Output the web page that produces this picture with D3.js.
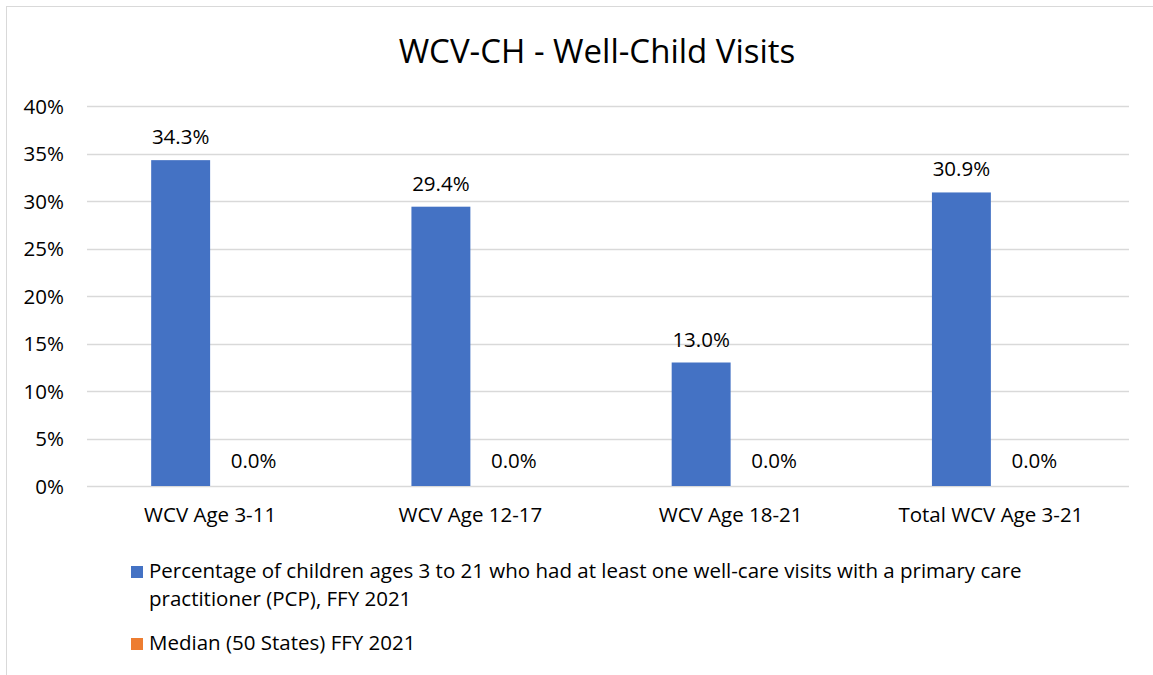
<!DOCTYPE html>
<html lang="en">
<head>
    <meta charset="UTF-8">
    <title>WCV-CH - Well-Child Visits</title>
    <script src="https://cdnjs.cloudflare.com/ajax/libs/d3/7.8.5/d3.min.js"></script>
    <style>
        body { margin: 0; background: #fff; }
        text { font-family: "Open Sans", "Liberation Sans", sans-serif; fill: #000; }
    </style>
</head>
<body>
<div id="wrapper"></div>
<script>
const title = "WCV-CH - Well-Child Visits";
const categories = ["WCV Age 3-11", "WCV Age 12-17", "WCV Age 18-21", "Total WCV Age 3-21"];
const seriesNames = [
    "Percentage of children ages 3 to 21 who had at least one well-care visits with a primary care\npractitioner (PCP), FFY 2021",
    "Median (50 States) FFY 2021"
];
const stateValues = [34.3, 29.4, 13.0, 30.9];
const medianValues = [0.0, 0.0, 0.0, 0.0];
const yTicks = [0, 5, 10, 15, 20, 25, 30, 35, 40];
const colors = ["#4472C4", "#ED7D31"];

const width = 1153;
const height = 675;
const fontSize = "20.5px";

const svg = d3.select("#wrapper")
    .append("svg")
    .attr("width", width)
    .attr("height", height);

// chart frame (runs off the right/bottom edge like the source)
svg.append("rect")
    .attr("x", 6.5).attr("y", 6.5)
    .attr("width", 1182).attr("height", 720)
    .attr("fill", "none")
    .attr("stroke", "#D9D9D9")
    .attr("stroke-width", 1);

svg.append("text")
    .attr("x", 597)
    .attr("y", 63)
    .attr("text-anchor", "middle")
    .style("font-size", "33px")
    .text(title);

// scales
const yScale = d3.scaleLinear()
    .domain([0, 40])
    .range([486, 106]);

const x0 = d3.scaleBand()
    .domain(categories)
    .range([80, 1121])
    .paddingInner(0.547)
    .paddingOuter(0.2735);

const x1 = d3.scaleBand()
    .domain([0, 1])
    .range([0, x0.bandwidth()]);

// gridlines
svg.append("g")
    .selectAll("line")
    .data(yTicks)
    .join("line")
    .attr("x1", 87).attr("x2", 1129)
    .attr("y1", d => Math.round(yScale(d)) + 0.5)
    .attr("y2", d => Math.round(yScale(d)) + 0.5)
    .attr("stroke", "#D9D9D9")
    .attr("stroke-width", 1.3);

// y axis labels
const yAxis = svg.append("g")
    .attr("transform", "translate(64,0)")
    .call(d3.axisLeft(yScale).tickValues(yTicks).tickSize(0).tickPadding(0).tickFormat(d => d + "%"));
yAxis.select(".domain").remove();
yAxis.selectAll("text")
    .style("font-size", fontSize)
    .attr("dy", "0.35em")
    .attr("fill", "#000");

// x axis labels
const xAxis = svg.append("g")
    .attr("transform", "translate(0,486)")
    .call(d3.axisBottom(x0).tickSize(0).tickPadding(0));
xAxis.select(".domain").remove();
xAxis.selectAll("text")
    .style("font-size", fontSize)
    .attr("dy", null)
    .attr("y", 36)
    .attr("fill", "#000");

// bars
const rows = categories.map((c, i) => ({cat: c, vals: [stateValues[i], medianValues[i]]}));

const groups = svg.append("g")
    .selectAll("g")
    .data(rows)
    .join("g")
    .attr("transform", d => `translate(${x0(d.cat)},0)`);

groups.selectAll("rect")
    .data(d => d.vals.map((v, k) => ({v, k})))
    .join("rect")
    .attr("x", d => x1(d.k))
    .attr("y", d => yScale(d.v))
    .attr("width", x1.bandwidth())
    .attr("height", d => yScale(0) - yScale(d.v))
    .attr("fill", d => colors[d.k]);

// data labels
groups.selectAll("text.lbl")
    .data(d => d.vals.map((v, k) => ({v, k})))
    .join("text")
    .attr("class", "lbl")
    .attr("x", d => x1(d.k) + x1.bandwidth() / 2 + (d.v === 0 ? 14 : 0))
    .attr("y", d => d.v === 0 ? yScale(d.v) - 18 : yScale(d.v) - 16)
    .attr("text-anchor", "middle")
    .style("font-size", fontSize)
    .text(d => d.v.toFixed(1) + "%");

// legend
const legendRows = [578, 650];
const legend = svg.append("g")
    .selectAll("g")
    .data(seriesNames)
    .join("g")
    .attr("transform", (d, i) => `translate(131,${legendRows[i]})`);

legend.append("rect")
    .attr("x", 0).attr("y", -12)
    .attr("width", 12).attr("height", 12)
    .attr("fill", (d, i) => colors[i]);

legend.append("text")
    .attr("x", 18)
    .style("font-size", fontSize)
    .selectAll("tspan")
    .data(d => d.split("\n"))
    .join("tspan")
    .attr("x", 18)
    .attr("dy", (d, i) => i === 0 ? 0 : 28)
    .text(d => d);
</script>
</body>
</html>
